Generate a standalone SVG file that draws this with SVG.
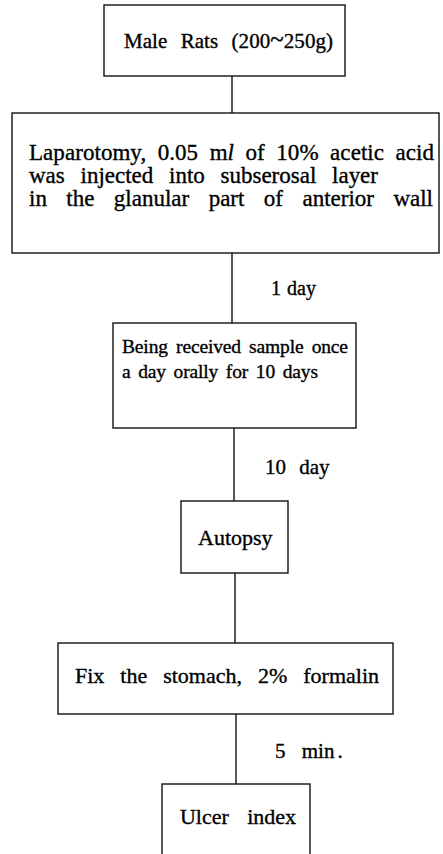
<svg xmlns="http://www.w3.org/2000/svg" width="443" height="854" viewBox="0 0 443 854">
<style>
.box{fill:#fff;stroke:#111;stroke-width:1.4}
.ln{stroke:#111;stroke-width:1.4;fill:none}
text{font-family:"Liberation Serif","Times New Roman",serif;font-size:20px;fill:#000;stroke:#000;stroke-width:0.35}
.t19{font-size:19.5px}
.t21{font-size:21px}
.t22{font-size:22px}
.t23{font-size:23px}
</style>
<rect width="443" height="854" fill="#fff"/>
<g id="connectors">
<line class="ln" x1="232" y1="76" x2="232" y2="113"/>
<line class="ln" x1="232" y1="253" x2="232" y2="323"/>
<line class="ln" x1="234" y1="428" x2="234" y2="501"/>
<line class="ln" x1="235" y1="573" x2="235" y2="643"/>
<line class="ln" x1="236" y1="714" x2="236" y2="784"/>
<text x="271" y="295" word-spacing="1">1 day</text>
<text class="t21" x="265" y="474" word-spacing="8">10 day</text>
<text class="t21" x="275" y="758" word-spacing="11">5 min<tspan dx="3">.</tspan></text>
</g>
<g id="n1">
<rect class="box" x="104" y="5" width="241" height="71"/>
<text class="t21" x="124" y="48" word-spacing="8" textLength="209" lengthAdjust="spacing">Male Rats (200<tspan font-size="25" dy="-1">~</tspan><tspan dy="1">250g)</tspan></text>
</g>
<g id="n2">
<rect class="box" x="12" y="113" width="427" height="140"/>
<text class="t23" x="29" y="160" word-spacing="5.7" textLength="405" lengthAdjust="spacing">Laparotomy, 0.05 m<tspan font-style="italic">l</tspan> of 10% acetic acid</text>
<text class="t23" x="29" y="183" word-spacing="10" textLength="349" lengthAdjust="spacing">was injected into subserosal layer</text>
<text class="t23" x="29" y="206" word-spacing="13.7" textLength="404" lengthAdjust="spacing">in the glanular part of anterior wall</text>
</g>
<g id="n3">
<rect class="box" x="113" y="323" width="243" height="105"/>
<text class="t19" x="122" y="353" word-spacing="3.5" textLength="226" lengthAdjust="spacing">Being received sample once</text>
<text class="t19" x="122" y="378" word-spacing="3" textLength="196" lengthAdjust="spacing">a day orally for 10 days</text>
</g>
<g id="n4">
<rect class="box" x="181" y="501" width="107" height="72"/>
<text class="t22" x="198" y="545">Autopsy</text>
</g>
<g id="n5">
<rect class="box" x="58" y="643" width="335" height="71"/>
<text class="t22" x="75" y="683" word-spacing="10.5" textLength="304" lengthAdjust="spacing">Fix the stomach, 2% formalin</text>
</g>
<g id="n6">
<rect class="box" x="162" y="784" width="148" height="90"/>
<text class="t22" x="180" y="824" word-spacing="13" textLength="116" lengthAdjust="spacing">Ulcer index</text>
</g>
</svg>
